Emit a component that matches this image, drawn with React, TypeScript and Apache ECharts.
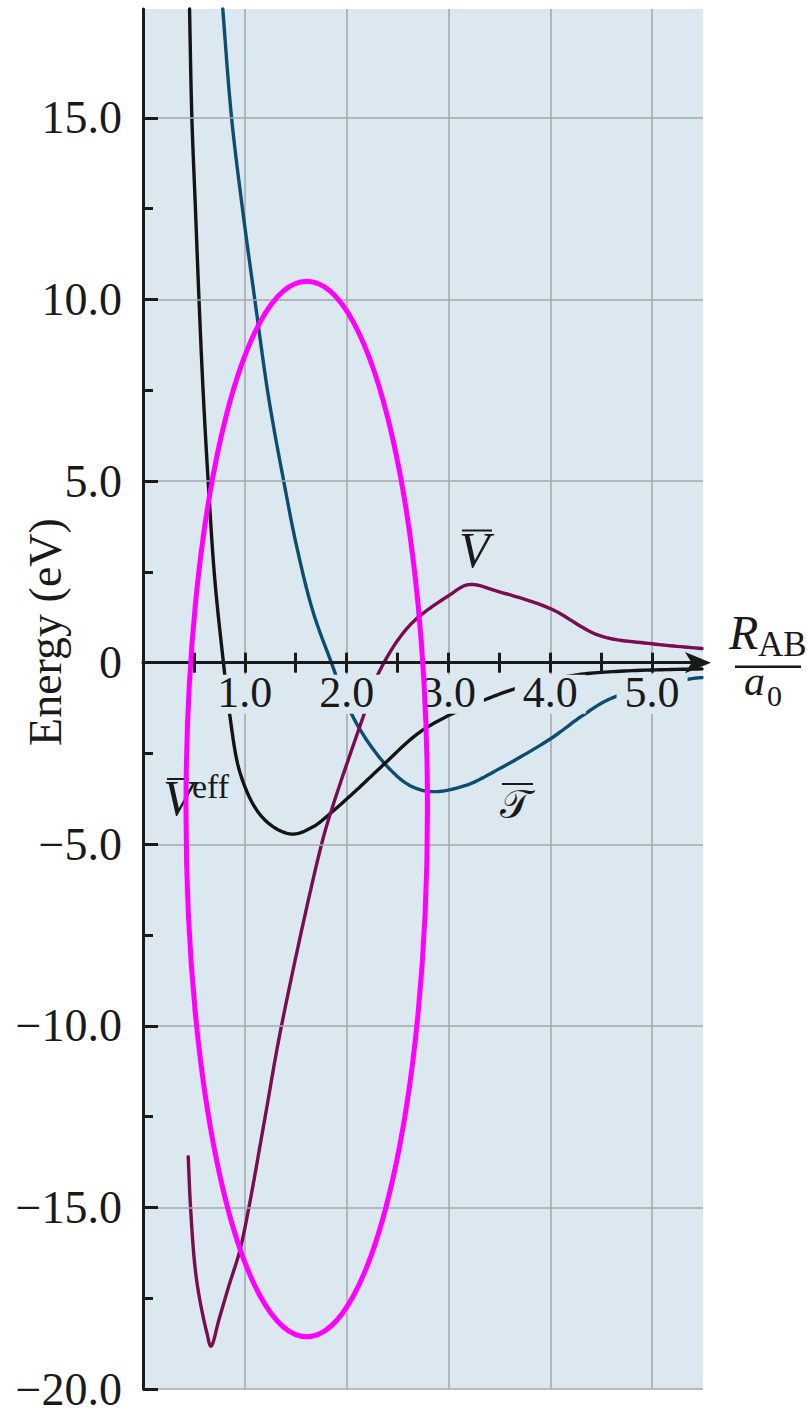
import React, { useEffect, useRef } from "react";
import * as echarts from "echarts";

const W = 807;
const H = 1410;

// Plot rectangle in the page
const PLOT_LEFT = 143;
const PLOT_RIGHT = 703;
const PLOT_TOP = 9;
const PLOT_BOTTOM = 1389;

// Axis ranges and tick positions (R_AB / a0 on x, energy in eV on y)
const X_MIN = 0;
const X_MAX = 5.5;
const Y_MIN = -20;
const Y_MAX = 18;
const yMajorTicks = [-20, -15, -10, -5, 0, 5, 10, 15];
const yMinorTicks = [-17.5, -12.5, -7.5, -2.5, 2.5, 7.5, 12.5];
const xTicks = [0.5, 1, 1.5, 2, 2.5, 3, 3.5, 4, 4.5, 5];
const xLabelValues = [1, 2, 3, 4, 5];

// Effective potential V̄eff  [R/a0, eV]
const vEff = [
  [0.455, 18.3], [0.48, 15.0], [0.515, 12.5], [0.55, 10.0], [0.59, 7.5],
  [0.64, 5.0], [0.705, 2.3], [0.79, 0.0], [0.85, -1.4], [0.95, -3.0],
  [1.11, -4.03], [1.28, -4.52], [1.47, -4.72], [1.67, -4.52], [1.86, -4.1],
  [2.1, -3.5], [2.35, -2.84], [2.72, -1.91], [3.1, -1.32], [3.35, -1.03],
  [3.65, -0.72], [4.0, -0.48], [4.3, -0.32], [4.8, -0.22], [5.49, -0.17],
];

// Kinetic energy T̄
const tKinetic = [
  [0.775, 18.3], [0.87, 15.0], [0.977, 12.5], [1.098, 10.0], [1.235, 7.28],
  [1.382, 5.0], [1.507, 3.23], [1.67, 1.4], [1.85, 0.0],
  [2.01, -1.19], [2.19, -2.1], [2.42, -2.92], [2.62, -3.38], [2.83, -3.55],
  [3.17, -3.38], [3.5, -2.92], [4.0, -2.1], [4.32, -1.45], [4.61, -0.97],
  [5.39, -0.44], [5.49, -0.41],
];

// Potential energy V̄
const vPotential = [
  [0.444, -13.6], [0.467, -15.0], [0.51, -16.62], [0.555, -17.5], [0.627, -18.45],
  [0.667, -18.82], [0.75, -18.05], [0.85, -17.1], [0.95, -16.2], [1.04, -15.0],
  [1.2, -12.5], [1.36, -10.0], [1.75, -5.04], [1.866, -3.93],
  [2.18, -1.35], [2.32, -0.25], [2.62, 1.03], [3.01, 1.86], [3.2, 2.15],
  [3.5, 1.95], [4.0, 1.49], [4.48, 0.75], [5.0, 0.52], [5.49, 0.39],
];

// Highlight ellipse around the bonding region, in data units
const ellipseCenter = [1.608, -4.03];
const ellipseRadii = [1.186, 14.53];

const SERIF = '"Liberation Serif", "Times New Roman", serif';
const INK = "#1a1a1a";
const PLOT_BG = "#dce8f0";
const GRID_LINE = "#a3a7ac";

const fmtY = (v: number) =>
  v === 0 ? "0" : (v < 0 ? "\u2212" : "") + Math.abs(v).toFixed(1);

type Pt = number[];

// Centripetal Catmull-Rom through the given pixel points, sampled as a polyline
function smoothThrough(pts: Pt[], steps = 14): Pt[] {
  const n = pts.length;
  if (n < 3) return pts.slice();
  const out: Pt[] = [pts[0]];
  const at = (i: number): Pt => {
    if (i < 0) return [2 * pts[0][0] - pts[1][0], 2 * pts[0][1] - pts[1][1]];
    if (i >= n)
      return [
        2 * pts[n - 1][0] - pts[n - 2][0],
        2 * pts[n - 1][1] - pts[n - 2][1],
      ];
    return pts[i];
  };
  const dist = (a: Pt, b: Pt) =>
    Math.max(1e-6, Math.sqrt(Math.hypot(a[0] - b[0], a[1] - b[1])));
  for (let i = 0; i < n - 1; i++) {
    const p0 = at(i - 1), p1 = at(i), p2 = at(i + 1), p3 = at(i + 2);
    const d1 = dist(p0, p1), d2 = dist(p1, p2), d3 = dist(p2, p3);
    const b1: Pt = [0, 1].map(
      (k) =>
        (d1 * d1 * p2[k] - d2 * d2 * p0[k] + (2 * d1 * d1 + 3 * d1 * d2 + d2 * d2) * p1[k]) /
        (3 * d1 * (d1 + d2))
    );
    const b2: Pt = [0, 1].map(
      (k) =>
        (d3 * d3 * p1[k] - d2 * d2 * p3[k] + (2 * d3 * d3 + 3 * d3 * d2 + d2 * d2) * p2[k]) /
        (3 * d3 * (d3 + d2))
    );
    for (let s = 1; s <= steps; s++) {
      const t = s / steps, u = 1 - t;
      out.push([0, 1].map(
        (k) => u * u * u * p1[k] + 3 * u * u * t * b1[k] + 3 * u * t * t * b2[k] + t * t * t * p2[k]
      ));
    }
  }
  return out;
}

// Cut a polyline at the top edge of the plot
function clipTop(pts: Pt[], top: number): Pt[] {
  const out: Pt[] = [];
  for (let i = 0; i < pts.length; i++) {
    const p = pts[i];
    if (p[1] >= top) {
      if (i > 0 && pts[i - 1][1] < top) {
        const q = pts[i - 1];
        const f = (top - q[1]) / (p[1] - q[1]);
        out.push([q[0] + f * (p[0] - q[0]), top]);
      }
      out.push(p);
    }
  }
  return out;
}

export default function App() {
  const ref = useRef<HTMLDivElement>(null);

  useEffect(() => {
    document.body.style.margin = "0";
    const chart = echarts.init(ref.current!, null, {
      renderer: "svg",
      width: W,
      height: H,
    });

    // distance from the bottom of the plot up to the y = 0 line
    const plotH = PLOT_BOTTOM - PLOT_TOP;
    const zeroOffset = -(plotH * (0 - Y_MIN)) / (Y_MAX - Y_MIN);

    const curveSeries = (name: string, data: number[][], color: string) => ({
      name,
      type: "custom",
      coordinateSystem: "cartesian2d",
      xAxisIndex: 0,
      yAxisIndex: 0,
      data: [data[0]],
      z: 2,
      silent: true,
      renderItem: (params: any, api: any) => {
        const px = data.map((p) => api.coord(p) as Pt);
        const top = params.coordSys.y;
        return {
          type: "polyline",
          shape: { points: clipTop(smoothThrough(px), top) },
          style: {
            fill: "none",
            stroke: color,
            lineWidth: 3.4,
            lineJoin: "round",
            lineCap: "round",
          },
        };
      },
    });

    chart.setOption({
      animation: false,
      backgroundColor: "#ffffff",
      grid: {
        left: PLOT_LEFT,
        right: W - PLOT_RIGHT,
        top: PLOT_TOP,
        bottom: H - PLOT_BOTTOM,
        containLabel: false,
        outerBoundsMode: "none",
        show: true,
        backgroundColor: PLOT_BG,
        borderWidth: 0,
      },
      xAxis: [
        {
          // main axis along y = 0 with arrow, upward ticks and labels
          type: "value",
          min: X_MIN,
          max: X_MAX,
          position: "bottom",
          offset: zeroOffset,
          z: 3,
          axisLine: {
            show: true,
            onZero: false,
            symbol: ["none", "arrow"],
            symbolSize: [16, 26],
            symbolOffset: [0, 8],
            lineStyle: { color: INK, width: 3 },
          },
          axisTick: {
            show: true,
            inside: true,
            length: 10,
            customValues: xTicks,
            lineStyle: { color: INK, width: 3 },
          },
          axisLabel: {
            show: true,
            customValues: xLabelValues,
            formatter: (v: number) => v.toFixed(1),
            fontFamily: SERIF,
            fontSize: 44,
            color: INK,
            margin: 12,
            lineHeight: 36,
            backgroundColor: PLOT_BG,
            padding: [0, 8, 3, 8],
          },
          splitLine: { show: false },
        },
        {
          // vertical grid lines
          type: "value",
          min: X_MIN,
          max: X_MAX,
          interval: 1,
          position: "bottom",
          axisLine: { show: false, onZero: false },
          axisTick: { show: false },
          axisLabel: { show: false },
          splitLine: {
            show: true,
            showMinLine: false,
            showMaxLine: false,
            lineStyle: { color: GRID_LINE, width: 1.5 },
          },
        },
        {
          // downward halves of the crossing ticks
          type: "value",
          min: X_MIN,
          max: X_MAX,
          position: "bottom",
          offset: zeroOffset,
          z: 4,
          axisLine: { show: false, onZero: false },
          axisTick: {
            show: true,
            inside: false,
            length: 10,
            customValues: xTicks,
            lineStyle: { color: INK, width: 3 },
          },
          axisLabel: { show: false },
          splitLine: { show: false },
        },
      ],
      yAxis: [
        {
          type: "value",
          min: Y_MIN,
          max: Y_MAX,
          position: "left",
          z: 3,
          axisLine: {
            show: true,
            onZero: false,
            lineStyle: { color: INK, width: 3 },
          },
          axisTick: {
            show: true,
            inside: true,
            length: 15,
            customValues: yMajorTicks,
            lineStyle: { color: INK, width: 3 },
          },
          axisLabel: {
            show: true,
            customValues: yMajorTicks,
            formatter: fmtY,
            fontFamily: SERIF,
            fontSize: 46,
            lineHeight: 40,
            color: INK,
            margin: 21,
          },
          splitLine: {
            show: true,
            lineStyle: { color: GRID_LINE, width: 1.5 },
          },
        },
        {
          type: "value",
          min: Y_MIN,
          max: Y_MAX,
          position: "left",
          z: 3,
          axisLine: { show: false, onZero: false },
          axisTick: {
            show: true,
            inside: true,
            length: 10,
            customValues: yMinorTicks,
            lineStyle: { color: INK, width: 3 },
          },
          axisLabel: { show: false },
          splitLine: { show: false },
        },
      ],
      series: [
        curveSeries("T", tKinetic, "#0e4d6e"),
        curveSeries("Veff", vEff, "#141414"),
        curveSeries("V", vPotential, "#7a0d4f"),
      ],
    });

    const toPx = (p: number[]) =>
      chart.convertToPixel({ xAxisIndex: 0, yAxisIndex: 0 }, p) as number[];
    const c = toPx(ellipseCenter);
    const edge = toPx([
      ellipseCenter[0] + ellipseRadii[0],
      ellipseCenter[1] + ellipseRadii[1],
    ]);

    const txt = (
      text: string,
      x: number,
      y: number,
      size: number,
      italic = false
    ) => ({
      type: "text",
      z: 50,
      style: {
        text,
        x,
        y,
        fill: INK,
        font: `${italic ? "italic " : ""}${size}px ${SERIF}`,
        align: "left",
        verticalAlign: "middle",
        textAlign: "left",
        textVerticalAlign: "middle",
      },
    });
    const bar = (x: number, y: number, w: number, h = 2) => ({
      type: "rect",
      z: 50,
      shape: { x, y, width: w, height: h },
      style: { fill: INK },
    });

    chart.setOption({
      graphic: [
        // y-axis title
        {
          type: "text",
          z: 50,
          x: 45,
          y: 632,
          rotation: Math.PI / 2,
          style: {
            text: "Energy (eV)",
            fill: INK,
            font: `46px ${SERIF}`,
            align: "center",
            verticalAlign: "middle",
            textAlign: "center",
            textVerticalAlign: "middle",
          },
        },
        // x-axis title R_AB / a0
        txt("R", 729, 632, 48, true),
        txt("AB", 758, 644, 35),
        bar(735, 665.5, 66, 2.5),
        txt("a", 744, 681, 42, true),
        txt("0", 767, 695, 30),
        // curve labels
        txt("V", 459, 549.5, 50, true),
        bar(462, 529.5, 30),
        txt("V", 163, 798.3, 50, true),
        txt("eff", 192, 786.5, 34),
        bar(167, 778, 22),
        txt("\u{1D4AF}", 500, 804, 40),
        bar(502, 783, 31),
        // highlight ellipse
        {
          type: "ellipse",
          z: 100,
          shape: {
            cx: c[0],
            cy: c[1],
            rx: Math.abs(edge[0] - c[0]),
            ry: Math.abs(c[1] - edge[1]),
          },
          style: { fill: "none", stroke: "#ff00ff", lineWidth: 5 },
        },
      ],
    });

    return () => chart.dispose();
  }, []);

  return <div ref={ref} style={{ width: W, height: H }} />;
}
